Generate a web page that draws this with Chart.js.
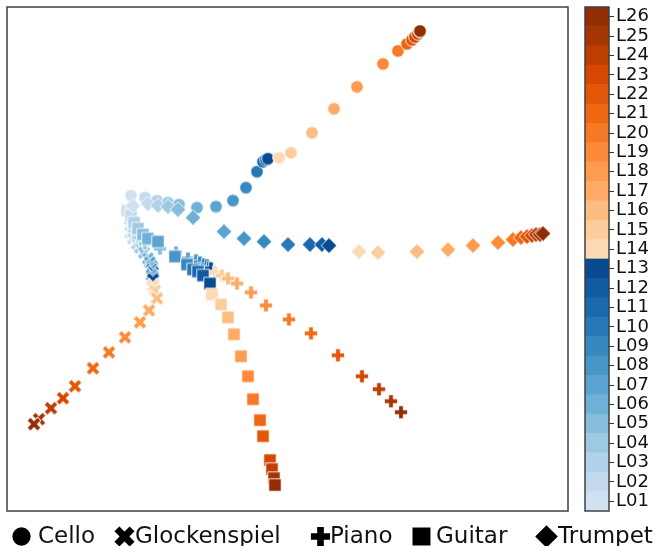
<!DOCTYPE html>
<html>
<head>
<meta charset="utf-8">
<script src="https://cdn.jsdelivr.net/npm/chart.js@4.4.1/dist/chart.umd.min.js"></script>
<style>
  html, body { margin: 0; padding: 0; background: #fff; }
  #wrap { position: relative; width: 663px; height: 546px; font-family: "DejaVu Sans", sans-serif; }
  #main { position: absolute; left: 0; top: 0; }
  #cbar { position: absolute; left: 575px; top: 0; }
  .lg { position: absolute; top: 522px; font-size: 23px; color: #111; line-height: 26px; white-space: nowrap; }
  .lgi { position: absolute; top: 522px; }
</style>
</head>
<body>
<div id="wrap">
  <canvas id="main" width="663" height="546"></canvas>
  <canvas id="cbar" width="88" height="520"></canvas>
  <div id="legend"></div>
</div>
<script>
// 层标签
const layers = ['L01','L02','L03','L04','L05','L06','L07','L08','L09','L10','L11','L12','L13',
                'L14','L15','L16','L17','L18','L19','L20','L21','L22','L23','L24','L25','L26'];
const instruments = ['Cello', 'Glockenspiel', 'Piano', 'Guitar', 'Trumpet'];

// 各乐器每层的二维坐标 (L01 ... L26)
const celloX = [124,138,150,161,172,190,209,226,239,250,256,259,261,272,284,305,327,350,376,391,400,405,408,411,413,413];
const celloY = [316,314,311,309,307,304,305,311,324,340,350,352,353,354,359,379,403,425,448,461,468,472,475,478,480,481];
const glockX = [123,126,130,133,137,141,143,145,145,146,145,146,146,146,148,150,142,133,118,102,86,68,56,44,32,27];
const glockY = [279,273,268,264,259,253,249,245,242,239,236,234,232,226,221,213,201,189,174,159,143,125,113,103,92,87];
const pianoX = [123,127,131,138,153,169,181,189,193,197,200,202,204,208,215,221,230,244,259,282,304,331,355,372,384,394];
const pianoY = [289,281,274,268,263,259,253,251,249,247,246,244,243,239,236,233,228,219,206,192,178,156,135,122,110,99];
const guitarX = [120,124,127,131,136,141,151,168,180,186,191,196,203,205,214,221,227,234,241,246,253,256,263,265,267,268];
const guitarY = [301,296,289,283,277,273,270,255,247,242,240,236,228,217,207,194,177,155,135,112,91,75,51,42,33,26];
const trumpetX = [126,141,151,161,171,186,217,237,257,281,303,315,322,352,371,410,441,466,491,506,514,520,525,529,533,536];
const trumpetY = [306,308,306,305,302,294,280,273,270,267,267,267,266,260,259,260,262,266,269,272,274,275,276,277,277,278];

// 颜色表
const bluesStops = ['#f7fbff','#deebf7','#c6dbef','#9ecae1','#6baed6','#4292c6','#2171b5','#08519c','#08306b'];
const orangesStops = ['#fff5eb','#fee6ce','#fdd0a2','#fdae6b','#fd8d3c','#f16913','#d94801','#a63603','#7f2704'];

function hexToRgb(h) {
    return [parseInt(h.slice(1,3),16), parseInt(h.slice(3,5),16), parseInt(h.slice(5,7),16)];
}
function sampleMap(stops, t) {
    const p = t * (stops.length - 1);
    const i = Math.min(Math.floor(p), stops.length - 2);
    const f = p - i;
    const a = hexToRgb(stops[i]), b = hexToRgb(stops[i + 1]);
    const c = a.map((v, k) => Math.round(v + (b[k] - v) * f));
    return `rgb(${c[0]},${c[1]},${c[2]})`;
}
const layerColors = layers.map((l, i) => {
    if (i < 13) return sampleMap(bluesStops, 0.2 + 0.7 * i / 12);
    return sampleMap(orangesStops, 0.2 + 0.74 * (i - 13) / 12);
});

// 画标记形状
function tracePlus(g, a, w) {
    const pts = [[-w,-a],[w,-a],[w,-w],[a,-w],[a,w],[w,w],[w,a],[-w,a],[-w,w],[-a,w],[-a,-w],[-w,-w]];
    g.moveTo(pts[0][0], pts[0][1]);
    pts.slice(1).forEach(p => g.lineTo(p[0], p[1]));
    g.closePath();
}
function makeMarker(shape, color, scale, edge) {
    const s = Math.ceil(20 * scale);
    const c = document.createElement('canvas');
    c.width = s; c.height = s;
    const g = c.getContext('2d');
    g.translate(s / 2, s / 2);
    g.scale(scale, scale);
    g.beginPath();
    if (shape === 'circle') {
        g.arc(0, 0, 6.3, 0, Math.PI * 2);
    } else if (shape === 'square') {
        g.rect(-6.2, -6.2, 12.4, 12.4);
    } else if (shape === 'diamond') {
        g.moveTo(0, -7.8); g.lineTo(7.8, 0); g.lineTo(0, 7.8); g.lineTo(-7.8, 0); g.closePath();
    } else if (shape === 'plus') {
        tracePlus(g, 6.6, 2.3);
    } else if (shape === 'x') {
        g.rotate(Math.PI / 4);
        tracePlus(g, 7.4, 2.4);
    }
    g.fillStyle = color;
    g.fill();
    if (edge) {
        g.strokeStyle = 'rgba(255,255,255,0.85)';
        g.lineWidth = 1;
        g.stroke();
    }
    return c;
}

const shapes = ['circle', 'x', 'plus', 'square', 'diamond'];
const seriesX = [celloX, glockX, pianoX, guitarX, trumpetX];
const seriesY = [celloY, glockY, pianoY, guitarY, trumpetY];

const datasets = instruments.map((name, s) => ({
    label: name,
    data: seriesX[s].map((x, i) => ({ x: x, y: seriesY[s][i] })),
    pointStyle: layerColors.map(col => makeMarker(shapes[s], col, 1, true)),
    pointRadius: 6,
    order: instruments.length - 1 - s
}));

// 边框插件
const framePlugin = {
    id: 'frame',
    afterDraw(chart, args, opts) {
        const a = chart.chartArea;
        const ctx = chart.ctx;
        ctx.save();
        ctx.strokeStyle = opts.color || '#404040';
        ctx.lineWidth = opts.width || 1.5;
        ctx.strokeRect(a.left, a.top, a.right - a.left, a.bottom - a.top);
        ctx.restore();
    }
};

new Chart(document.getElementById('main'), {
    type: 'scatter',
    data: { datasets: datasets },
    plugins: [framePlugin],
    options: {
        responsive: false,
        animation: false,
        events: [],
        layout: { padding: { left: 7, top: 6, right: 95, bottom: 35 } },
        scales: {
            x: { display: false, min: 0, max: 561 },
            y: { display: false, min: 0, max: 505 }
        },
        plugins: {
            legend: { display: false },
            tooltip: { enabled: false },
            frame: { color: '#404040', width: 1.5 }
        }
    }
});

// 颜色条
new Chart(document.getElementById('cbar'), {
    type: 'bar',
    data: {
        labels: [''],
        datasets: layers.map((l, i) => ({
            label: l,
            data: [1],
            backgroundColor: layerColors[i],
            borderWidth: 0,
            barPercentage: 1,
            categoryPercentage: 1
        }))
    },
    plugins: [framePlugin],
    options: {
        responsive: false,
        animation: false,
        events: [],
        layout: { padding: { left: 10, top: 7, bottom: 9, right: 0 } },
        scales: {
            x: { display: false, stacked: true },
            y: {
                stacked: true,
                position: 'right',
                min: 0,
                max: 26,
                afterFit(scale) {
                    scale.width = 54;
                    scale.paddingTop = 0;
                    scale.paddingBottom = 0;
                },
                afterBuildTicks(scale) {
                    scale.ticks = layers.map((l, i) => ({ value: i + 0.5 }));
                },
                ticks: {
                    autoSkip: false,
                    padding: 2,
                    color: '#111',
                    font: { family: 'DejaVu Sans', size: 18 },
                    callback: (value, index) => layers[index]
                },
                grid: { drawOnChartArea: false, drawTicks: true, tickLength: 5, color: '#333' },
                border: { display: false }
            }
        },
        plugins: {
            legend: { display: false },
            tooltip: { enabled: false },
            frame: { color: '#404040', width: 1.5 }
        }
    }
});

// 图例
const legendEl = document.getElementById('legend');
const iconLeft = [7, 110, 306, 407, 532];
const textLeft = [38, 135, 330, 436, 558];
instruments.forEach((name, s) => {
    const icon = makeMarker(shapes[s], '#000', 1.45, false);
    icon.className = 'lgi';
    icon.style.left = iconLeft[s] + 'px';
    legendEl.appendChild(icon);
    const t = document.createElement('span');
    t.className = 'lg';
    t.style.left = textLeft[s] + 'px';
    t.textContent = name;
    legendEl.appendChild(t);
});
</script>
</body>
</html>
